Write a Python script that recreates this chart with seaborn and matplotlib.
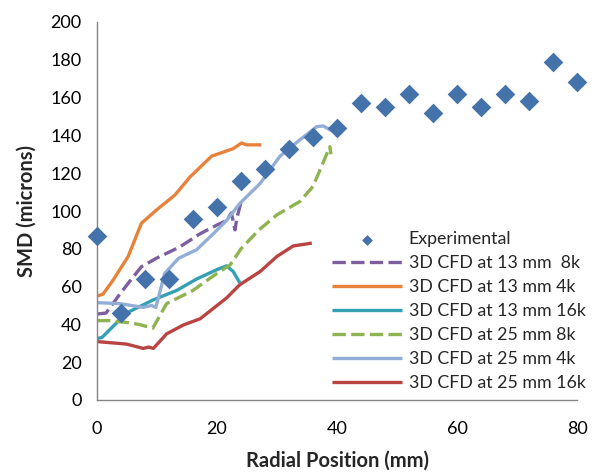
import matplotlib
matplotlib.use("Agg")
import matplotlib.pyplot as plt
import seaborn as sns
import pandas as pd

# Experimental data
exp_x = [0, 4, 8, 12, 16, 20, 24, 28, 32, 36, 40, 44, 48, 52, 56, 60, 64, 68, 72, 76, 80]
exp_y = [87, 46, 64, 64, 96, 102, 116, 122, 133, 139, 144, 157, 155, 162, 152, 162, 155, 162, 158, 179, 168]

# 3D CFD at 13 mm 8k
c13_8k_x = [0, 1.5, 3.8, 5.5, 7.4, 9.9, 13.8, 17.2, 20, 21.6, 22.4, 23.0, 23.3, 24.1]
c13_8k_y = [45.5, 46, 56, 63, 70.5, 75, 81, 88, 92.6, 95, 99, 90, 96, 106]
# 3D CFD at 13 mm 4k
c13_4k_x = [0, 1, 2.7, 5.2, 7.4, 9.9, 13, 15.5, 19.1, 22.7, 24.1, 24.9, 27.4]
c13_4k_y = [55, 56, 63.5, 76, 93.5, 100.5, 108.5, 118, 129, 133, 136, 135, 135]
# 3D CFD at 13 mm 16k
c13_16k_x = [0, 0.8, 4.9, 9.4, 13.3, 16.6, 20, 21.6, 22.7, 23.8]
c13_16k_y = [32.6, 33, 46, 53, 58, 64, 69, 71, 68, 62]
# 3D CFD at 25 mm 8k
c25_8k_x = [0, 2, 5, 7, 9.3, 11.6, 16, 20, 22.2, 24, 27, 30, 33.8, 36, 38, 38.8, 39]
c25_8k_y = [42, 42, 41, 40, 38, 51, 58, 67, 71.5, 80, 90, 98, 105, 113, 128, 134, 130]
# 3D CFD at 25 mm 4k
c25_4k_x = [0, 3.8, 7.7, 9.1, 9.8, 11.3, 13.6, 16.6, 19.4, 21.6, 23.8, 27.2, 30.5, 33.8, 36.6, 37.7, 39.4]
c25_4k_y = [51.5, 51, 49, 50, 49, 67, 75, 79.5, 88, 95, 104, 114.6, 129, 137.6, 144.6, 145, 142]
# 3D CFD at 25 mm 16k
c25_16k_x = [0, 4.9, 7.7, 8.6, 9.4, 11.6, 14.4, 17.2, 20, 21.6, 23.8, 27.2, 30, 32.7, 35.8]
c25_16k_y = [30.9, 29.6, 27.3, 28, 27.3, 35, 39.7, 43, 50, 54, 61, 68, 76, 81.5, 83]

x_ticks = [0, 20, 40, 60, 80]
y_ticks = [0, 20, 40, 60, 80, 100, 120, 140, 160, 180, 200]

sns.set_theme(style="white")
plt.rcParams['font.family'] = ['Lato', 'DejaVu Sans']

fig = plt.figure(figsize=(6.1, 4.74), dpi=100)
ax = fig.add_axes([97/610, 1-400/474, 480/610, 378/474])

series = [
    ("3D CFD at 13 mm  8k", c13_8k_x, c13_8k_y, "#7D5FA0", (4.0, 1.6)),
    ("3D CFD at 13 mm 4k", c13_4k_x, c13_4k_y, "#E8823A", None),
    ("3D CFD at 13 mm 16k", c13_16k_x, c13_16k_y, "#34A0B4", None),
    ("3D CFD at 25 mm 8k", c25_8k_x, c25_8k_y, "#8FB350", (4.0, 1.6)),
    ("3D CFD at 25 mm 4k", c25_4k_x, c25_4k_y, "#92AED6", None),
    ("3D CFD at 25 mm 16k", c25_16k_x, c25_16k_y, "#B94542", None),
]

sns.scatterplot(x=exp_x, y=exp_y, ax=ax, marker="D", s=100, color="#4472AA",
                edgecolor="#4472AA", linewidth=0, label="Experimental", zorder=5,
                clip_on=False)

for name, xs, ys, col, dash in series:
    df = pd.DataFrame({"x": xs, "y": ys})
    sns.lineplot(data=df, x="x", y="y", ax=ax, color=col, linewidth=2.4,
                 label=name, sort=False, estimator=None)
    l = ax.get_lines()[-1]
    if dash:
        l.set_dashes(dash)
    l.set_solid_capstyle("butt")

ax.set_xlim(0, 80)
ax.set_ylim(0, 200)
ax.set_xticks(x_ticks)
ax.set_yticks(y_ticks)
for s in ["top", "right"]:
    ax.spines[s].set_visible(False)
for s in ["left", "bottom"]:
    ax.spines[s].set_color("#868686")
    ax.spines[s].set_linewidth(1.0)
ax.tick_params(axis="both", which="both", direction="out", length=5, width=1,
               color="#868686", labelsize=13, labelcolor="black")
ax.tick_params(axis="x", pad=10)
ax.tick_params(axis="y", pad=6)
ax.set_xlabel("Radial Position (mm)", fontsize=14.5, fontweight="bold", labelpad=10)
ax.set_ylabel("SMD (microns)", fontsize=14.5, fontweight="bold", labelpad=10)
ax.grid(False)

leg = ax.legend(loc="lower right", bbox_to_anchor=(1.04, -0.005), frameon=False,
                fontsize=12.8, handlelength=3.9, handletextpad=0.4,
                labelspacing=0.45, borderaxespad=0.2, markerscale=0.55)

fig.savefig("out.png", dpi=100)
